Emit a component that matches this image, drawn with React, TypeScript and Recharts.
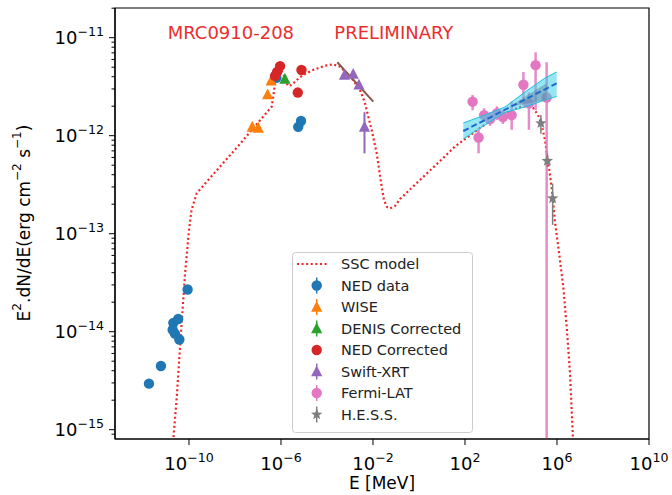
import {
  ComposedChart,
  XAxis,
  YAxis,
  Scatter,
  Line,
  Area,
  ErrorBar,
  ReferenceArea,
  Legend,
} from "recharts";

// all values are log10: E in MeV, flux E^2 dN/dE in erg cm^-2 s^-1
const sscLogE = [
  -10.7, -10.68, -10.53, -10.37, -10.17, -10.0, -9.89, -9.665, -9.087, -8.435,
  -7.783, -7.274, -6.826, -6.404, -6.326, -6.261, -6.174, -6.043, -5.87, -5.696,
  -5.535, -5.317, -5.043, -4.609, -4.087, -3.739, -3.435, -3.143, -2.87, -2.565,
  -2.348, -2.204, -2.057, -1.839, -1.622, -1.522, -1.391, -1.261, -1.043, -0.826,
  0.043, 0.913, 1.565, 2.0, 2.652, 3.304, 3.957, 4.391, 4.739, 4.957, 5.174,
  5.326, 5.478, 5.587, 5.696, 5.813, 5.913, 6.057, 6.274, 6.422, 6.565, 6.683,
  6.717,
];
const sscLogF = [
  -15.31, -15.095, -14.663, -14.085, -13.404, -12.962, -12.758, -12.588, -12.432,
  -12.258, -12.085, -11.942, -11.819, -11.704, -11.585, -11.465, -11.35, -11.299,
  -11.391, -11.493, -11.483, -11.432, -11.381, -11.33, -11.286, -11.271, -11.296,
  -11.363, -11.432, -11.534, -11.666, -11.806, -11.942, -12.18, -12.52, -12.656,
  -12.728, -12.743, -12.717, -12.646, -12.452, -12.259, -12.11, -12.034, -11.921,
  -11.819, -11.748, -11.707, -11.697, -11.717, -11.787, -11.881, -12.044, -12.228,
  -12.401, -12.615, -12.881, -13.136, -13.544, -13.952, -14.421, -15.034, -15.309,
];

const nedLogE = [-11.74, -11.22, -10.06, -10.68, -10.47, -10.71, -10.61, -10.42, -6.2, -5.25, -5.13];
const nedLogF = [-14.53, -14.35, -13.57, -13.91, -13.87, -13.98, -14.02, -14.08, -11.41, -11.91, -11.85];

const wiseLogE = [-7.25, -6.99, -6.58, -6.43];
const wiseLogF = [-11.91, -11.92, -11.58, -11.44];

const denisLogE = [-5.83];
const denisLogF = [-11.42];

const nedCorrLogE = [-6.26, -6.17, -6.04, -5.11, -5.27];
const nedCorrLogF = [-11.39, -11.35, -11.29, -11.33, -11.56];

const swiftLogE = [-3.24, -2.86, -2.61, -2.37];
const swiftLogF = [-11.38, -11.37, -11.48, -11.91];
const swiftLo = [-11.38, -11.37, -11.48, -12.18];
const swiftHi = [-11.38, -11.37, -11.48, -11.76];
const swiftFitLogE = [-3.552, -1.987];
const swiftFitLogF = [-11.251, -11.653];

// last Fermi point: error bar runs down past the bottom of the plot
const fermiLogE = [2.33, 2.59, 2.83, 3.09, 3.39, 3.65, 4.03, 4.54, 4.78, 5.07, 5.55];
const fermiLogF = [-11.653, -12.018, -11.79, -11.83, -11.77, -11.81, -11.79, -11.48, -11.67, -11.28, -11.61];
const fermiLo = [-11.74, -12.18, -11.86, -11.9, -11.84, -11.88, -11.94, -11.69, -11.94, -11.74, -15.095];
const fermiHi = [-11.585, -11.94, -11.72, -11.76, -11.7, -11.74, -11.65, -11.35, -11.56, -11.15, -11.25];

const bandLogE = [1.926, 2.87, 3.739, 4.609, 5.478, 5.987];
const bandLo = [-12.034, -11.891, -11.763, -11.707, -11.636, -11.6];
const bandHi = [-11.87, -11.789, -11.707, -11.554, -11.411, -11.35];
const bandFit = [-11.952, -11.84, -11.735, -11.631, -11.527, -11.465];
const wedgeLogE = [3.957, 4.75, 5.552];
const wedgeLo = [-11.704, -11.67, -11.636];
const wedgeHi = [-11.704, -11.58, -11.465];

const hessLogE = [5.3, 5.58, 5.81];
const hessLogF = [-11.873, -12.258, -12.639];
const hessLo = [-11.98, -12.32, -12.91];
const hessHi = [-11.79, -12.18, -12.49];

const xTicks = [-10, -6, -2, 2, 6, 10];
const yMajor = [-15, -14, -13, -12, -11];
const legendNames = [
  "SSC model",
  "NED data",
  "WISE",
  "DENIS Corrected",
  "NED Corrected",
  "Swift-XRT",
  "Fermi-LAT",
  "H.E.S.S.",
];

const X_DOMAIN = [-13.217, 10];
const Y_DOMAIN = [-15.095, -10.697];
const FONT = "DejaVu Sans, sans-serif";

const C = {
  ssc: "#f02525",
  ned: "#1f77b4",
  wise: "#ff7f0e",
  denis: "#2ca02c",
  nedCorr: "#d62728",
  swift: "#9467bd",
  fermi: "#e377c2",
  hess: "#7f7f7f",
  brown: "#8c564b",
};

const pts = (es: number[], fs: number[]) => es.map((e, i) => ({ x: e, y: fs[i] }));
const ptsErr = (es: number[], fs: number[], lo: number[], hi: number[]) =>
  es.map((e, i) => ({ x: e, y: fs[i], err: [fs[i] - lo[i], hi[i] - fs[i]] }));

// minor ticks 2..9 x 10^n inside the y range
const yMinor: number[] = [];
for (let n = -16; n <= -11; n++) {
  for (let k = 2; k <= 9; k++) {
    const v = n + Math.log10(k);
    if (v > Y_DOMAIN[0] && v < Y_DOMAIN[1]) yMinor.push(v);
  }
}
const yTicks = [...yMajor, ...yMinor].sort((a, b) => a - b);

const starPath = (cx: number, cy: number, R: number, r: number) => {
  let d = "";
  for (let i = 0; i < 10; i++) {
    const a = (Math.PI / 5) * i - Math.PI / 2;
    const rad = i % 2 === 0 ? R : r;
    d += `${i === 0 ? "M" : "L"}${cx + rad * Math.cos(a)},${cy + rad * Math.sin(a)}`;
  }
  return d + "Z";
};

const circle = (fill: string, r = 5.2) => (p: any) =>
  <circle cx={p.cx} cy={p.cy} r={r} fill={fill} />;
const triangle = (fill: string) => (p: any) =>
  <path d={`M${p.cx},${p.cy - 6}L${p.cx + 5.6},${p.cy + 4.8}L${p.cx - 5.6},${p.cy + 4.8}Z`} fill={fill} />;
const star = (fill: string) => (p: any) => <path d={starPath(p.cx, p.cy, 6, 2.6)} fill={fill} />;

const Pow = ({ exp }: { exp: number }) => (
  <>
    <tspan fontSize={18}>10</tspan>
    <tspan fontSize={12.6} dy={-8.5}>
      {exp < 0 ? `\u2212${-exp}` : `${exp}`}
    </tspan>
  </>
);

const YTick = (props: any) => {
  const { x, y, payload } = props;
  const v = payload.value;
  const major = Math.abs(v - Math.round(v)) < 1e-9;
  return (
    <g>
      <line x1={x - (major ? 6 : 3.5)} x2={x} y1={y} y2={y} stroke="#000" strokeWidth={1} />
      {major && (
        <text x={x - 11} y={y + 6.5} textAnchor="end" fill="#000" fontFamily={FONT}>
          <Pow exp={Math.round(v)} />
        </text>
      )}
    </g>
  );
};

const XTick = (props: any) => {
  const { x, y, payload } = props;
  return (
    <g>
      <line x1={x} x2={x} y1={y} y2={y + 6} stroke="#000" strokeWidth={1} />
      <text x={x} y={y + 31} textAnchor="middle" fill="#000" fontFamily={FONT}>
        <Pow exp={payload.value} />
      </text>
    </g>
  );
};

const LegendBox = () => {
  const rowY = (i: number) => 12 + i * 21.5;
  const mx = 24.7;
  return (
    <svg width={181} height={181} style={{ display: "block" }}>
      <rect x={0.5} y={0.5} width={180} height={180} rx={3} fill="rgba(255,255,255,0.8)" stroke="#cccccc" />
      <line x1={5} x2={37} y1={rowY(0)} y2={rowY(0)} stroke={C.ssc} strokeWidth={2.2} strokeDasharray="2 2.6" />
      {[C.ned, C.wise, C.denis, C.swift, C.fermi, C.hess].map((c, j) => {
        const i = [1, 2, 3, 5, 6, 7][j];
        return <line key={c} x1={mx} x2={mx} y1={rowY(i) - 8} y2={rowY(i) + 8} stroke={c} strokeWidth={1.5} />;
      })}
      {circle(C.ned)({ cx: mx, cy: rowY(1) })}
      {triangle(C.wise)({ cx: mx, cy: rowY(2) })}
      {triangle(C.denis)({ cx: mx, cy: rowY(3) })}
      {circle(C.nedCorr)({ cx: mx, cy: rowY(4) })}
      {triangle(C.swift)({ cx: mx, cy: rowY(5) })}
      {circle(C.fermi)({ cx: mx, cy: rowY(6) })}
      {star(C.hess)({ cx: mx, cy: rowY(7) })}
      {legendNames.map((n, i) => (
        <text key={n} x={49} y={rowY(i)} dominantBaseline="central" fontSize={14.5} fontFamily={FONT} fill="#222">
          {n}
        </text>
      ))}
    </svg>
  );
};

export default function App() {
  const band = bandLogE.map((e, i) => ({ x: e, band: [bandLo[i], bandHi[i]], fit: bandFit[i] }));
  const wedge = wedgeLogE.map((e, i) => ({ x: e, band: [wedgeLo[i], wedgeHi[i]] }));
  const ssc = sscLogE.map((e, i) => ({ x: e, model: sscLogF[i] }));
  const swiftFit = swiftFitLogE.map((e, i) => ({ x: e, fit: swiftFitLogF[i] }));

  return (
    <div style={{ position: "absolute", left: 0, top: 0, width: 672, height: 495, background: "#fff" }}>
      <ComposedChart width={672} height={495} margin={{ top: 8, right: 23, bottom: 0, left: 0 }}>
        <XAxis
          type="number"
          dataKey="x"
          domain={X_DOMAIN}
          allowDataOverflow
          ticks={xTicks}
          interval={0}
          height={56}
          tickSize={0}
          tickMargin={0}
          tickLine={false}
          tick={<XTick />}
          axisLine={{ stroke: "#000", strokeWidth: 1.2 }}
        />
        <YAxis
          type="number"
          dataKey="y"
          domain={Y_DOMAIN}
          allowDataOverflow
          ticks={yTicks}
          interval={0}
          width={115}
          tickSize={0}
          tickMargin={0}
          tickLine={false}
          tick={<YTick />}
          axisLine={{ stroke: "#000", strokeWidth: 1.2 }}
        />
        <Line data={ssc} dataKey="model" type="linear" stroke={C.ssc} strokeWidth={2.2}
          strokeDasharray="2 2.6" dot={false} isAnimationActive={false} />
        <Scatter data={pts(nedLogE, nedLogF)} shape={circle(C.ned)} isAnimationActive={false} />
        <Scatter data={pts(wiseLogE, wiseLogF)} shape={triangle(C.wise)} isAnimationActive={false} />
        <Scatter data={pts(denisLogE, denisLogF)} shape={triangle(C.denis)} isAnimationActive={false} />
        <Scatter data={pts(nedCorrLogE, nedCorrLogF)} shape={circle(C.nedCorr)} isAnimationActive={false} />
        <Scatter data={ptsErr(swiftLogE, swiftLogF, swiftLo, swiftHi)} shape={triangle(C.swift)} isAnimationActive={false}>
          <ErrorBar dataKey="err" direction="y" width={0} stroke={C.swift} strokeWidth={2} />
        </Scatter>
        <Line data={swiftFit} dataKey="fit" type="linear" stroke={C.brown} strokeWidth={2} dot={false} isAnimationActive={false} />
        <Scatter data={ptsErr(fermiLogE, fermiLogF, fermiLo, fermiHi)} shape={circle(C.fermi)} isAnimationActive={false}>
          <ErrorBar dataKey="err" direction="y" width={0} stroke={C.fermi} strokeWidth={2.5} strokeOpacity={0.85} />
        </Scatter>
        <Area data={band} dataKey="band" type="linear" fill="#3fd0e8" fillOpacity={0.55} zIndex={650}
          stroke="#22bfdc" strokeWidth={1} isAnimationActive={false} />
        <Area data={wedge} dataKey="band" type="linear" fill="#5d7f99" fillOpacity={0.45} zIndex={660}
          stroke="none" isAnimationActive={false} />
        <Line data={band} dataKey="fit" type="linear" stroke="#1f68d0" strokeWidth={2} zIndex={670}
          strokeDasharray="6 3" dot={false} isAnimationActive={false} />
        <Scatter data={ptsErr(hessLogE, hessLogF, hessLo, hessHi)} shape={star(C.hess)} isAnimationActive={false} zIndex={680}>
          <ErrorBar dataKey="err" direction="y" width={0} stroke={C.hess} strokeWidth={1.5} />
        </Scatter>
        <ReferenceArea x1={X_DOMAIN[0]} x2={X_DOMAIN[1]} y1={Y_DOMAIN[0]} y2={Y_DOMAIN[1]}
          fill="none" stroke="#000" strokeWidth={1.2} ifOverflow="visible" />
        <Legend
          layout="vertical"
          align="center"
          verticalAlign="middle"
          content={() => <LegendBox />}
          wrapperStyle={{ left: 292, top: 252, width: 181, height: 181 }}
        />
        <text x={167.7} y={38.5} fontSize={18} fill="#ea2e2e" fontFamily={FONT}>MRC0910-208</text>
        <text x={334.3} y={38.5} fontSize={18} fill="#ea2e2e" fontFamily={FONT}>PRELIMINARY</text>
        <text x={382} y={489} fontSize={17} textAnchor="middle" fill="#000" fontFamily={FONT}>E [MeV]</text>
        <text transform="translate(24,223) rotate(-90)" textAnchor="middle" dominantBaseline="central"
          fontSize={17} fill="#000" fontFamily={FONT}>
          E<tspan baselineShift="super" fontSize={12}>2</tspan>.dN/dE(erg cm
          <tspan baselineShift="super" fontSize={12}>{"\u22122"}</tspan> s
          <tspan baselineShift="super" fontSize={12}>{"\u22121"}</tspan>)
        </text>
      </ComposedChart>
    </div>
  );
}
